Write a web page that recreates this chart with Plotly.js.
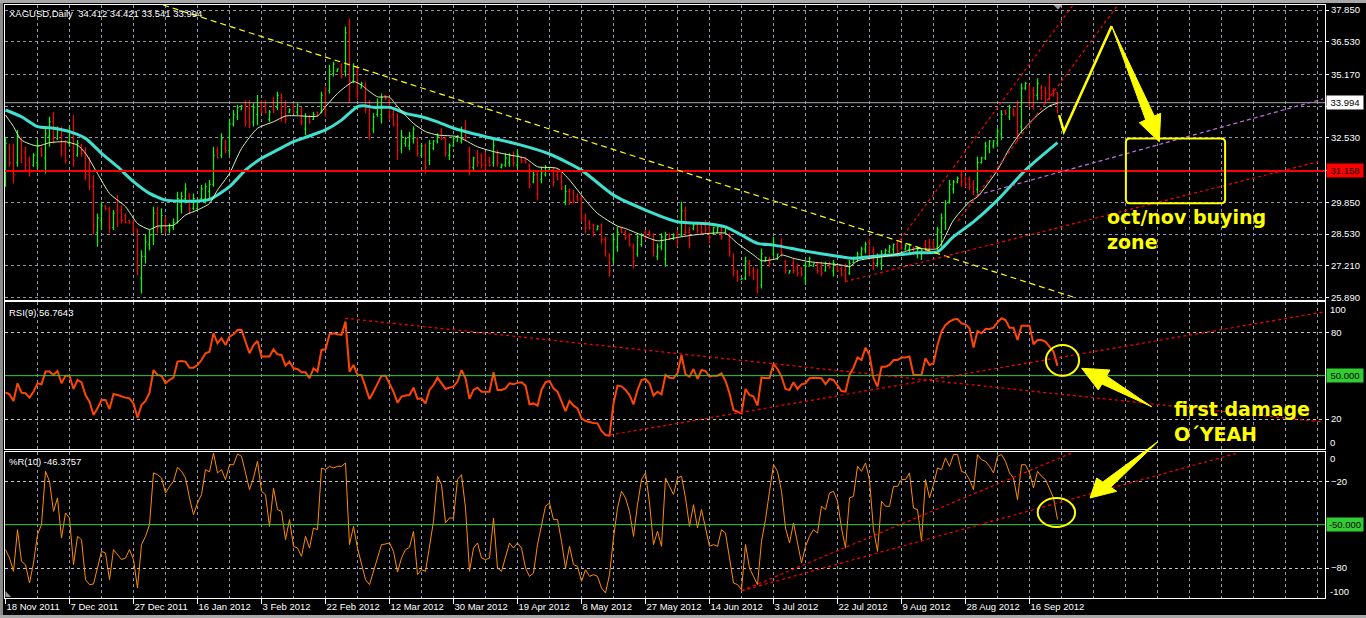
<!DOCTYPE html>
<html><head><meta charset="utf-8">
<script src="https://cdn.plot.ly/plotly-3.0.1.min.js"></script>
<style>html,body{margin:0;padding:0;background:#000;overflow:hidden}#chart{width:1366px;height:618px}</style>
</head><body><div id="chart"></div>
<script>
// ---------- data ----------
const dateLabels = ["18 Nov 2011","7 Dec 2011","27 Dec 2011","16 Jan 2012","3 Feb 2012","22 Feb 2012","12 Mar 2012","30 Mar 2012","19 Apr 2012","8 May 2012","27 May 2012","14 Jun 2012","3 Jul 2012","22 Jul 2012","9 Aug 2012","28 Aug 2012","16 Sep 2012"];

const barOpen = [
31.0,32.1,31.9,31.5,32.4,31.9,31.6,31.4,31.5,32.1,
31.7,32.6,33.2,32.5,32.9,32.1,32.3,32.8,31.8,32.2,
31.9,31.0,30.5,28.6,29.1,29.7,29.6,28.8,29.5,29.5,
29.3,29.1,29.0,28.7,26.7,27.6,28.1,28.5,29.4,28.8,
29.1,28.7,28.8,29.0,29.7,30.0,30.2,29.6,29.6,30.0,
30.0,30.3,30.6,32.0,31.8,32.4,32.0,33.1,33.4,33.7,
33.9,33.8,33.2,33.5,34.0,33.9,33.3,34.0,33.8,34.2,
33.9,33.6,33.8,33.6,33.7,32.9,33.4,33.3,33.6,33.6,
34.4,34.5,35.2,35.3,35.5,35.3,36.8,34.9,35.3,34.6,
34.7,33.8,32.9,33.5,33.5,34.3,34.1,33.5,33.1,32.1,
32.3,32.2,32.5,32.5,31.8,32.2,31.6,32.1,32.4,32.8,
32.5,31.8,32.2,32.4,32.4,32.9,32.0,31.3,31.9,31.8,
31.6,31.6,31.5,31.9,31.3,31.4,31.5,31.8,31.4,31.7,
31.6,31.4,30.7,31.0,30.8,31.0,31.2,31.2,31.0,30.9,
29.9,30.3,30.2,30.1,30.0,29.2,29.0,28.9,28.7,28.9,
28.3,27.7,27.5,28.0,28.75,28.6,28.5,28.0,27.7,28.1,
28.6,28.6,28.5,27.6,28.0,27.5,28.5,28.35,28.5,28.5,
29.5,28.6,28.75,28.9,28.9,28.9,28.8,28.55,28.6,28.8,
28.6,28.5,27.7,26.95,26.63,26.7,27.3,27.0,26.9,26.4,
27.4,27.5,27.7,27.5,28.1,27.4,26.9,27.3,27.2,27.1,
26.7,27.2,27.2,27.3,27.2,27.0,27.3,27.0,27.2,27.1,
27.0,26.9,27.35,27.5,27.7,27.9,28.2,27.8,27.3,27.3,
27.7,27.8,27.9,28.1,28.2,27.9,27.9,27.95,27.7,27.7,
28.1,28.2,28.15,28.0,28.6,29.0,29.9,30.4,30.7,31.0,
30.85,30.8,30.6,30.4,31.5,31.7,32.1,32.2,32.3,32.7,
33.65,33.4,33.7,33.7,33.0,34.6,34.7,34.5,34.3,34.6,
34.5,34.6,34.5,34.412];

const barHigh = [
32.58,32.30,32.30,32.86,32.58,32.16,31.75,31.89,32.44,32.16,
33.00,33.41,33.62,33.00,33.00,32.44,33.00,33.48,32.44,32.30,
32.16,31.75,30.98,29.39,29.87,29.73,29.67,29.53,30.15,29.73,
29.39,29.11,29.11,28.76,27.86,28.49,28.70,29.67,29.67,29.60,
29.25,28.97,29.18,30.29,30.29,30.64,30.22,30.22,29.94,30.57,
30.64,30.78,32.16,32.16,32.72,32.44,33.34,33.69,33.90,33.90,
34.10,34.10,33.97,34.31,34.10,34.10,33.69,34.24,34.45,34.38,
34.10,33.76,33.97,33.97,33.83,33.55,33.48,33.62,33.62,34.45,
34.66,35.56,35.70,35.42,35.63,37.16,37.50,35.63,35.49,34.87,
34.87,34.10,33.55,34.17,34.38,34.31,34.17,33.83,33.55,32.86,
32.58,32.79,33.00,32.58,32.30,32.30,32.44,32.44,32.72,32.93,
32.58,32.30,32.58,32.65,33.00,33.27,32.16,31.75,32.03,31.89,
31.96,31.75,32.44,32.03,31.47,31.89,31.89,31.96,32.03,31.75,
31.75,31.47,31.12,31.19,31.33,31.40,31.33,31.33,31.26,31.12,
30.57,30.43,30.36,30.22,30.15,29.39,29.11,28.97,28.90,28.97,
28.42,27.72,28.56,28.83,28.83,28.70,28.56,28.14,28.56,28.56,
28.70,28.70,28.56,28.14,28.56,28.63,28.56,28.56,28.70,29.87,
29.67,28.83,28.97,28.97,29.04,29.11,29.04,28.83,28.83,28.83,
28.83,28.56,27.72,27.04,26.69,27.59,27.45,27.17,27.10,27.93,
27.59,27.59,28.42,27.72,28.35,27.45,27.04,27.52,27.31,27.17,
27.38,27.59,27.31,27.38,27.38,27.38,27.38,27.45,27.24,27.17,
27.31,27.45,27.59,27.79,28.00,28.21,28.35,28.00,27.72,27.86,
27.93,28.07,28.14,28.28,28.28,28.14,28.14,28.00,28.00,27.93,
28.28,28.35,28.28,28.83,29.39,29.94,30.78,30.78,30.92,31.19,
30.92,30.92,30.78,31.75,31.75,32.37,32.44,32.44,32.93,33.69,
33.69,33.90,33.76,34.10,34.80,34.87,34.73,34.66,35.01,34.73,
34.66,35.15,34.59,34.421];

const barLow = [
30.50,31.33,30.64,31.33,31.47,31.19,30.92,31.33,31.19,31.75,
31.05,32.16,32.30,32.44,31.75,31.47,32.16,31.33,31.75,31.75,
30.78,30.36,28.49,28.00,28.70,29.53,28.56,28.70,28.83,28.97,
28.97,28.97,28.56,26.83,26.06,27.31,27.86,28.07,28.56,28.56,
28.56,28.56,28.70,28.97,29.39,29.80,29.39,29.53,29.53,29.94,
29.80,29.94,30.50,31.68,31.68,31.89,31.82,33.00,33.27,33.69,
33.00,32.93,33.00,33.06,33.55,33.55,33.20,33.55,33.69,33.20,
33.13,33.55,33.55,33.48,33.06,32.65,33.13,33.27,33.41,33.55,
33.41,34.38,35.08,35.28,35.01,35.08,33.97,34.80,34.10,34.59,
33.55,32.44,32.72,33.41,33.13,34.10,33.27,33.00,31.61,31.89,
32.16,32.03,32.30,31.75,31.75,31.05,31.40,32.03,32.30,32.44,
31.75,31.61,32.16,32.37,32.30,32.44,30.98,31.19,31.33,31.26,
31.19,31.33,31.33,31.33,31.26,31.33,31.33,31.33,31.26,31.47,
31.47,30.43,30.64,29.94,30.64,30.92,31.19,30.50,30.78,30.36,
29.73,29.73,29.80,29.87,29.04,28.56,28.70,28.42,28.70,28.14,
27.59,26.76,27.31,27.79,28.56,28.28,28.00,27.10,27.59,28.00,
28.28,28.42,27.59,27.45,27.86,27.17,28.28,28.28,28.00,28.42,
28.42,27.93,28.70,28.56,28.49,28.56,28.14,28.49,28.56,28.28,
28.56,27.59,26.76,26.55,26.62,26.62,26.76,26.62,26.06,26.27,
27.38,27.17,27.59,27.45,27.59,26.89,26.89,26.89,26.76,26.76,
26.41,27.17,27.17,26.89,26.76,26.97,27.10,26.76,26.97,26.76,
26.55,26.83,27.31,27.38,27.59,27.72,27.45,27.04,27.17,27.04,
27.59,27.72,27.72,27.59,27.86,27.86,27.72,27.66,27.52,27.45,
27.72,27.86,27.93,27.72,28.00,28.70,29.80,30.22,30.64,30.50,
30.50,30.36,30.15,30.22,31.47,31.61,31.89,32.09,32.16,32.44,
33.48,33.27,33.41,32.37,32.72,34.52,33.83,33.69,34.10,34.10,
33.97,34.10,34.24,33.541];

const barClose = [
32.3,31.5,31.0,32.6,31.7,31.4,31.1,31.8,32.2,31.8,
32.7,33.2,32.5,32.9,32.0,31.6,32.8,31.6,32.3,31.9,
31.0,30.5,28.9,29.2,29.7,29.6,28.8,29.4,29.0,29.1,
29.0,29.0,28.7,27.1,27.6,28.2,28.5,29.4,28.8,29.3,
28.7,28.9,29.0,30.0,30.1,30.4,29.6,30.0,29.9,30.4,
30.5,30.6,31.8,31.7,32.5,32.0,33.1,33.5,33.8,33.85,
33.2,33.1,33.8,34.0,33.6,33.6,33.6,33.7,34.3,33.4,
33.3,33.7,33.6,33.9,33.2,33.4,33.2,33.5,33.45,34.3,
33.7,35.3,35.6,35.4,35.1,36.9,34.9,35.5,34.4,34.8,
33.7,32.7,33.4,34.0,34.2,34.15,33.4,33.1,32.0,32.6,
32.5,32.6,32.9,31.9,32.2,31.3,32.3,32.4,32.6,32.5,
31.9,32.2,32.5,32.6,32.8,32.6,31.3,31.7,31.5,31.4,
31.4,31.4,32.2,31.5,31.4,31.7,31.8,31.5,31.8,31.6,
31.5,30.6,31.0,30.2,31.1,31.3,31.3,30.7,30.8,30.5,
30.3,29.9,29.9,29.95,29.2,28.8,28.8,28.6,28.85,28.3,
27.8,27.0,28.3,28.6,28.6,28.4,28.1,27.4,28.4,28.5,
28.4,28.5,27.8,28.0,28.4,28.5,28.35,28.5,28.2,29.5,
28.6,28.1,28.9,28.7,28.6,28.7,28.4,28.8,28.8,28.4,
28.8,27.8,27.0,26.7,26.68,27.4,26.9,26.7,26.3,27.7,
27.55,27.3,28.2,27.7,27.7,27.0,27.0,27.0,26.9,26.85,
27.2,27.5,27.3,27.0,26.9,27.3,27.15,27.3,27.0,26.85,
26.7,27.3,27.55,27.7,27.9,28.1,27.6,27.3,27.6,27.7,
27.85,28.0,28.1,27.8,27.95,28.05,28.05,27.75,27.9,27.85,
27.9,28.0,28.0,28.7,29.2,29.8,30.6,30.7,30.85,30.7,
30.6,30.5,30.3,31.5,31.7,32.2,32.4,32.4,32.8,33.5,
33.55,33.8,33.5,32.7,34.6,34.8,34.0,34.3,34.8,34.3,
34.4,34.3,34.4,33.994];

// slow moving average (thick turquoise) read at these bar numbers
const maSlowBar = [0,4,8,12,16,20,24,28,32,36,40,44,48,51,56,60,64,68,72,76,80,84,88,90,92,96,98,100,104,108,112,120,128,136,144,152,160,168,176,180,184,188,192,200,208,212,216,224,228,233,237,242,248,255,263];
const maSlowVal = [33.69,33.41,33.00,32.93,32.79,32.51,31.89,31.33,30.71,30.22,29.94,29.90,29.90,29.97,30.50,31.19,31.68,32.03,32.37,32.61,32.86,33.27,33.83,33.86,33.80,33.80,33.69,33.55,33.41,33.20,32.93,32.58,32.27,31.86,31.19,30.15,29.53,29.04,28.95,28.83,28.49,28.14,28.07,27.82,27.61,27.52,27.59,27.68,27.75,27.79,28.42,29.04,29.94,31.19,32.33];

// fast moving average (thin pale green)
const maFastBar = [0,2,4,8,11,15,18,20,23,26,30,33,36,38,42,45,48,51,53,56,59,63,67,70,73,78,80,83,87,89,90,93,96,98,102,105,108,113,118,122,126,130,133,138,141,145,148,153,155,159,163,168,172,176,180,183,187,189,193,194,197,201,205,209,211,213,218,222,226,228,233,237,241,243,248,251,254,258,261,263];
const maFastVal = [33.48,33.00,32.44,32.19,32.33,32.37,32.23,31.89,31.05,30.22,29.67,28.97,28.72,28.86,28.90,29.32,29.53,29.80,30.36,31.05,32.09,32.93,33.20,33.44,33.45,33.44,33.83,34.38,34.87,34.73,34.59,34.24,34.22,33.83,33.13,32.79,32.65,32.58,32.16,31.96,31.82,31.68,31.33,31.26,30.78,29.94,29.39,28.86,28.76,28.49,28.25,28.39,28.49,28.56,28.56,28.14,27.66,27.42,27.52,27.66,27.52,27.38,27.31,27.24,27.17,27.42,27.56,27.66,27.86,27.93,27.93,29.11,29.87,30.08,31.19,32.09,32.79,33.48,33.86,33.97];

const rsiValues = [
38.5,37.1,32.5,44.7,38.2,37.8,34.8,38.9,44.7,44.0,
52.8,52.8,50.5,53.2,44.7,50.0,50.0,40.8,47.0,45.4,
36.6,32.0,22.8,27.4,33.2,33.2,26.9,37.3,36.6,35.5,
34.8,34.3,30.8,20.9,29.7,32.5,38.2,53.9,50.5,50.0,
44.7,47.0,48.6,59.7,60.2,59.7,55.5,55.5,57.4,60.8,
65.5,66.6,79.3,72.4,75.9,71.2,77.0,78.6,81.6,81.6,
73.5,65.5,71.2,74.0,63.2,63.2,63.2,68.2,64.8,64.3,
56.9,59.7,55.1,54.6,52.3,52.3,48.2,55.1,52.8,67.8,
68.2,78.6,79.3,78.6,78.2,87.4,52.8,57.4,50.5,50.5,
42.4,33.9,38.9,44.7,50.0,50.0,44.0,38.9,31.3,35.5,
36.2,36.6,41.7,33.9,34.3,30.8,40.1,43.5,48.6,44.7,
40.8,41.7,42.4,45.9,53.9,48.2,33.9,40.1,41.7,38.9,
38.9,38.9,52.3,40.1,40.1,41.2,44.7,44.0,45.0,45.4,
43.1,30.2,30.8,29.2,40.1,45.4,46.3,41.2,38.9,32.0,
25.5,32.5,29.2,27.4,20.5,18.6,17.7,17.2,17.0,11.7,
8.9,8.5,30.8,43.1,42.6,40.1,36.6,30.2,40.1,47.0,
47.7,44.7,36.2,38.9,37.1,50.5,48.6,48.2,51.6,64.3,
50.9,49.3,54.6,47.7,53.9,53.2,49.3,50.0,50.0,51.6,
46.3,37.8,26.2,25.1,23.9,40.8,36.6,35.5,29.2,48.6,
48.6,48.2,58.1,54.6,49.3,40.8,40.1,45.4,40.8,44.0,
44.7,48.2,48.6,48.6,48.2,44.0,47.7,47.0,43.5,39.4,
38.9,50.5,55.5,62.5,60.8,69.4,64.3,48.2,42.4,56.2,
56.2,57.4,60.8,60.8,62.5,62.5,63.2,50.5,50.5,50.5,
62.0,57.4,58.5,71.2,80.5,85.1,87.4,88.8,89.2,86.2,
85.5,82.8,69.4,80.9,79.3,82.3,82.3,83.2,86.9,89.7,
88.5,83.2,83.2,74.7,84.6,84.6,84.6,71.7,74.7,74.7,
73.5,70.1,66.6,56.7643];

const wprValues = [
-67.3,-73.1,-82.3,-53.5,-75.4,-77.7,-90.4,-76.5,-56.9,-50.0,
-13.1,-20.0,-40.8,-31.5,-59.2,-41.9,-45.4,-77.7,-58.1,-60.4,
-88.1,-91.5,-91.1,-80.0,-68.5,-69.6,-88.1,-67.3,-70.8,-74.2,
-73.1,-67.3,-74.2,-93.8,-63.8,-58.1,-50.0,-14.2,-15.4,-17.7,
-28.1,-23.5,-20.0,-10.3,-13.1,-17.7,-31.5,-43.1,-35.0,-29.2,
-11.9,-13.5,-0.4,-14.2,-11.9,-18.8,-8.5,-8.5,-1.1,-2.7,
-14.2,-25.8,-17.7,-6.2,-26.9,-29.2,-51.2,-24.6,-39.6,-40.8,
-60.4,-46.5,-65.0,-66.2,-71.9,-58.1,-66.2,-52.3,-53.5,-10.8,
-11.9,-9.6,-10.8,-9.6,-9.6,-7.3,-63.8,-51.2,-66.2,-77.7,
-88.1,-91.5,-82.3,-73.1,-63.8,-63.4,-62.7,-68.5,-82.8,-73.1,
-67.3,-65.7,-54.6,-84.6,-81.1,-82.3,-66.2,-47.7,-16.5,-22.3,
-48.8,-45.4,-45.4,-18.8,-15.4,-38.5,-82.3,-66.2,-62.7,-73.1,
-74.2,-73.1,-45.4,-80.0,-82.3,-73.1,-62.7,-66.2,-62.7,-66.2,
-80.0,-85.8,-83.5,-63.8,-50.0,-37.3,-35.0,-46.5,-46.5,-61.5,
-80.0,-65.0,-77.7,-78.8,-89.2,-81.2,-85.8,-84.6,-85.8,-93.8,
-97.3,-84.6,-59.2,-38.5,-26.9,-31.5,-40.8,-58.1,-36.2,-18.8,
-14.2,-35.0,-63.8,-54.6,-65.0,-17.7,-23.5,-29.2,-17.7,-16.5,
-31.5,-51.2,-36.2,-52.3,-39.6,-52.3,-65.0,-63.8,-65.0,-53.5,
-55.8,-73.1,-90.4,-91.5,-95.0,-63.8,-80.0,-85.8,-91.5,-61.5,
-46.5,-26.9,-8.5,-13.1,-26.9,-52.3,-62.7,-48.8,-61.5,-76.5,
-65.0,-58.1,-53.5,-55.8,-37.3,-39.6,-28.1,-26.9,-33.8,-52.3,
-66.2,-31.5,-30.4,-9.6,-13.1,-7.3,-18.8,-53.5,-68.5,-33.8,
-37.3,-37.3,-23.5,-23.5,-18.8,-18.8,-14.2,-38.5,-39.6,-61.5,
-18.8,-31.5,-22.3,-10.8,-11.9,-3.8,-9.6,-1.5,-1.5,-13.1,
-14.2,-18.8,-25.8,-1.5,-5.0,-6.2,-9.6,-14.2,-2.7,-1.5,
-6.2,-14.2,-17.7,-32.7,-8.5,-8.5,-14.2,-24.6,-13.1,-16.5,
-18.8,-25.8,-31.5,-46.3757];

const priceTicks = [25.89,27.21,28.53,29.85,31.17,32.53,33.85,35.17,36.53,37.85];
const priceTickText = ["25.890","27.210","28.530","29.850","","32.530","","35.170","36.530","37.850"];
const rsiTicks = [20,80];
const wprTicks = [-20,-80];
const lastBar = {open:34.412, high:34.421, low:33.541, close:33.994};
const levelPrice = 31.158;
const rsiLast = 56.7643, wprLast = -46.3757;

// ---------- layout helpers ----------
const W = 1366, H = 618;
const px = v => v / W, py = v => 1 - v / H;
const barIdx = barClose.map((_, i) => i);
const gridIdx = []; for (let k = 0; k <= 328; k += 8) gridIdx.push(k);
const labelIdx = dateLabels.map((_, k) => k * 16);
const XR = [-0.125, 329.875];
const GRID = '#8e98a8', GRID2 = '#c4c4c4', DASH = '3px,3px';
const FONT = 'Liberation Sans, Arial, sans-serif';

const traces = [
  {type:'ohlc', x:barIdx, open:barOpen, high:barHigh, low:barLow, close:barClose,
   increasing:{line:{color:'#00ff00', width:1.2}}, decreasing:{line:{color:'#ff0000', width:1.2}},
   tickwidth:0.3, xaxis:'x', yaxis:'y', hoverinfo:'skip'},
  {type:'scatter', mode:'lines', x:maSlowBar, y:maSlowVal, line:{color:'#40e0d0', width:3, shape:'spline', smoothing:0.6}, xaxis:'x', yaxis:'y', hoverinfo:'skip'},
  {type:'scatter', mode:'lines', x:maFastBar, y:maFastVal, line:{color:'#d4f5b4', width:1, shape:'spline', smoothing:0.6}, xaxis:'x', yaxis:'y', hoverinfo:'skip'},
  {type:'scatter', mode:'lines', x:barIdx, y:rsiValues, line:{color:'#ff4500', width:2}, xaxis:'x2', yaxis:'y2', hoverinfo:'skip'},
  {type:'scatter', mode:'lines', x:barIdx, y:wprValues, line:{color:'#ff8c00', width:1}, xaxis:'x3', yaxis:'y3', hoverinfo:'skip'}
];

const xCommon = {range:XR, showline:true, mirror:true, linecolor:'#ffffff', linewidth:1, zeroline:false,
  showgrid:true, gridcolor:GRID, griddash:DASH, gridwidth:1, fixedrange:true};
const dom = [px(5), px(1325)];

const layout = {
  width:W, height:H, paper_bgcolor:'#000', plot_bgcolor:'#000', showlegend:false,
  margin:{l:0, r:0, t:0, b:0}, hovermode:false, font:{family:FONT, color:'#fff', size:9.5},
  xaxis: Object.assign({}, xCommon, {domain:dom, anchor:'y', tickmode:'array', tickvals:gridIdx, showticklabels:false, ticks:'', rangeslider:{visible:false}}),
  xaxis2: Object.assign({}, xCommon, {domain:dom, anchor:'y2', tickmode:'array', tickvals:gridIdx, showticklabels:false, ticks:''}),
  xaxis3: Object.assign({}, xCommon, {domain:dom, anchor:'y3', tickmode:'array', tickvals:labelIdx, ticktext:dateLabels,
    ticks:'outside', ticklen:5, tickcolor:'#fff', ticklabelposition:'outside right', tickfont:{family:FONT, size:9.5, color:'#fff'},
    minor:{tickmode:'array', tickvals:gridIdx, showgrid:true, gridcolor:GRID, griddash:DASH, gridwidth:1, ticks:''}}),
  yaxis: {domain:[py(300), py(5)], range:[25.787, 38.058], side:'right', anchor:'x', tickmode:'array', tickvals:priceTicks, ticktext:priceTickText,
    showgrid:true, gridcolor:GRID, griddash:DASH, zeroline:false, showline:true, mirror:true, linecolor:'#fff',
    ticks:'outside', ticklen:3, tickcolor:'#fff', tickfont:{family:FONT, size:9.5, color:'#fff'}, fixedrange:true},
  yaxis2: {domain:[py(449), py(302)], range:[-0.76, 100.97], side:'right', anchor:'x2', tickmode:'array', tickvals:rsiTicks,
    showgrid:true, gridcolor:GRID2, griddash:DASH, zeroline:false, showline:true, mirror:true, linecolor:'#fff',
    ticks:'outside', ticklen:3, tickcolor:'#fff', tickfont:{family:FONT, size:9.5, color:'#fff'}, fixedrange:true},
  yaxis3: {domain:[py(598), py(452)], range:[-100.76, 0.28], side:'right', anchor:'x3', tickmode:'array', tickvals:wprTicks,
    showgrid:true, gridcolor:GRID2, griddash:DASH, zeroline:false, showline:true, mirror:true, linecolor:'#fff',
    ticks:'outside', ticklen:3, tickcolor:'#fff', tickfont:{family:FONT, size:9.5, color:'#fff'}, fixedrange:true},
  shapes: [], annotations: []
};

// ---------- level lines ----------
const S = layout.shapes, A = layout.annotations;
S.push({type:'line', xref:'x domain', yref:'y', x0:0, x1:1, y0:lastBar.close, y1:lastBar.close, line:{color:'#a8a8a8', width:1}});
S.push({type:'line', xref:'x domain', yref:'y', x0:0, x1:1, y0:levelPrice, y1:levelPrice, line:{color:'#ff0000', width:2}});
S.push({type:'line', xref:'x2 domain', yref:'y2', x0:0, x1:1, y0:50, y1:50, line:{color:'#32cd32', width:1}});
S.push({type:'line', xref:'x3 domain', yref:'y3', x0:0, x1:1, y0:-50, y1:-50, line:{color:'#32cd32', width:1}});

// ---------- hand-drawn trend lines (bar number, value) ----------
const trendLines = [
  {ax:'', pts:[39.4,38.06,266.9,25.91], color:'#ffff00', dash:'6px,4px'},
  {ax:'', pts:[209.9,26.55,328.2,31.54], color:'#ff0000', dash:DASH},
  {ax:'', pts:[223.6,28.28,266.9,38.06], color:'#ff0000', dash:DASH},
  {ax:'', pts:[238.1,29.07,278.1,38.06], color:'#ff0000', dash:DASH},
  {ax:'', pts:[242.9,30.15,329.4,34.15], color:'#c070e0', dash:'4px,3px'},
  {ax:'2', pts:[84.9,89.7,329.4,17.9], color:'#ff0000', dash:DASH},
  {ax:'2', pts:[151.1,8.9,329.4,94.0], color:'#ff0000', dash:DASH},
  {ax:'3', pts:[184.05,-95.7,266.55,-0.4], color:'#ff0000', dash:DASH},
  {ax:'3', pts:[184.05,-95.7,308.1,-0.4], color:'#ff0000', dash:DASH}
];
trendLines.forEach(t => S.push({type:'line', xref:'x'+t.ax, yref:'y'+t.ax, x0:t.pts[0], y0:t.pts[1], x1:t.pts[2], y1:t.pts[3],
  line:{color:t.color, width:1.2, dash:t.dash}}));

// ---------- yellow annotations ----------
const YEL = '#ffff00';
const pathOf = pts => 'M' + pts.map(p => p[0] + ',' + p[1]).join(' L') + ' Z';
const openPath = pts => 'M' + pts.map(p => p[0] + ',' + p[1]).join(' L');
S.push({type:'path', xref:'x', yref:'y', path:openPath([[263.4,33.48],[264.6,32.79],[276.55,37.18]]), line:{color:YEL, width:2.5}});
S.push({type:'path', xref:'x', yref:'y', path:pathOf([[276.55,37.18],[287.2,33.44],[288.8,33.55],[288.45,32.37],[283.45,33.16],[285.05,33.28]]),
  fillcolor:YEL, line:{color:YEL, width:1}});
(function(){
  const x0=280.1, x1=304.9, yT=32.51, yB=29.81, rx=1.0, ry=0.17;
  const p = `M${x0+rx},${yT} L${x1-rx},${yT} Q${x1},${yT} ${x1},${yT-ry} L${x1},${yB+ry} Q${x1},${yB} ${x1-rx},${yB} L${x0+rx},${yB} Q${x0},${yB} ${x0},${yB+ry} L${x0},${yT-ry} Q${x0},${yT} ${x0+rx},${yT} Z`;
  S.push({type:'path', xref:'x', yref:'y', path:p, line:{color:YEL, width:2}});
})();
S.push({type:'circle', xref:'x2', yref:'y2', x0:260.1, x1:268.4, y0:50.0, y1:71.2, line:{color:YEL, width:2}});
S.push({type:'path', xref:'x2', yref:'y2', path:pathOf([[286.55,28.5],[275.25,49.8],[276.1,53.9],[269.05,55.1],[273.2,40.1],[274.1,44.2]]),
  fillcolor:YEL, line:{color:YEL, width:1}});
S.push({type:'circle', xref:'x3', yref:'y3', x0:258.05, x1:267.4, y0:-51.6, y1:-31.6, line:{color:YEL, width:2}});
S.push({type:'path', xref:'paper', yref:'paper', path:pathOf([[1158,441.5],[1110.7,487.3],[1116.7,491.3],[1090,498],[1096.7,478],[1102.7,482]].map(p=>[px(p[0]),py(p[1])])),
  fillcolor:YEL, line:{color:YEL, width:1}});

// window frame and small markers
S.push({type:'rect', xref:'paper', yref:'paper', x0:0, x1:px(3), y0:0, y1:1, fillcolor:'#8a8a8a', line:{width:0}});
S.push({type:'rect', xref:'paper', yref:'paper', x0:0, x1:1, y0:py(3), y1:1, fillcolor:'#a8a8a8', line:{width:0}});
S.push({type:'rect', xref:'paper', yref:'paper', x0:0, x1:1, y0:0, y1:py(615), fillcolor:'#a8a8a8', line:{width:0}});
S.push({type:'path', xref:'paper', yref:'paper', path:pathOf([[1053.5,5],[1062.5,5],[1058,9.5]].map(p=>[px(p[0]),py(p[1])])), fillcolor:'#9a9a9a', line:{width:0}});
S.push({type:'path', xref:'paper', yref:'paper', path:pathOf([[5.5,591],[5.5,597],[11,597]].map(p=>[px(p[0]),py(p[1])])), fillcolor:'#9a9a9a', line:{width:0}});

// ---------- texts ----------
const fmt3 = v => v.toFixed(3);
A.push({xref:'paper', yref:'paper', x:px(7), y:py(13), xanchor:'left', yanchor:'middle', showarrow:false,
  text:`XAGUSD,Daily  ${fmt3(lastBar.open)} ${fmt3(lastBar.high)} ${fmt3(lastBar.low)} ${fmt3(lastBar.close)}`, font:{family:FONT, size:9.5, color:'#fff'}});
A.push({xref:'paper', yref:'paper', x:px(7), y:py(312), xanchor:'left', yanchor:'middle', showarrow:false,
  text:`RSI(9) ${rsiLast.toFixed(4)}`, font:{family:FONT, size:9.5, color:'#fff'}});
A.push({xref:'paper', yref:'paper', x:px(7), y:py(461), xanchor:'left', yanchor:'middle', showarrow:false,
  text:`%R(10) ${wprLast.toFixed(4)}`, font:{family:FONT, size:9.5, color:'#fff'}});
const boxLabel = (yref, y, text, bg) => A.push({xref:'paper', yref:yref, x:px(1326), y:y, xanchor:'left', yanchor:'middle', showarrow:false,
  text:text, bgcolor:bg, borderpad:1, width:34, align:'center', font:{family:FONT, size:9.5, color:'#000'}});
boxLabel('y', lastBar.close, fmt3(lastBar.close), '#ffffff');
boxLabel('y', levelPrice, fmt3(levelPrice), '#ff0000');
boxLabel('y2', 50, '50.000', '#32cd32');
boxLabel('y3', -50, '-50.000', '#32cd32');
const edgeLabel = (yref, y, text) => A.push({xref:'paper', yref:yref, x:px(1328), y:y, xanchor:'left', yanchor:'middle', showarrow:false,
  text:text, font:{family:FONT, size:9.5, color:'#fff'}});
edgeLabel('y2', 95.9, '100'); edgeLabel('y2', 3.9, '0');
edgeLabel('y3', -3.9, '0'); edgeLabel('y3', -96.3, '-100');
A.push({xref:'x', yref:'y', x:274.9, y:28.72, xanchor:'left', yanchor:'middle', showarrow:false, align:'left',
  text:'<b>oct/nov buying<br>zone</b>', font:{family:'DejaVu Sans', size:19, color:YEL}});
A.push({xref:'x2', yref:'y2', x:291.5, y:18.6, xanchor:'left', yanchor:'middle', showarrow:false, align:'left',
  text:'<b>first damage<br>O´YEAH</b>', font:{family:'DejaVu Sans', size:19, color:YEL}});

Plotly.newPlot('chart', traces, layout, {staticPlot:true, displayModeBar:false});
</script>
</body></html>
